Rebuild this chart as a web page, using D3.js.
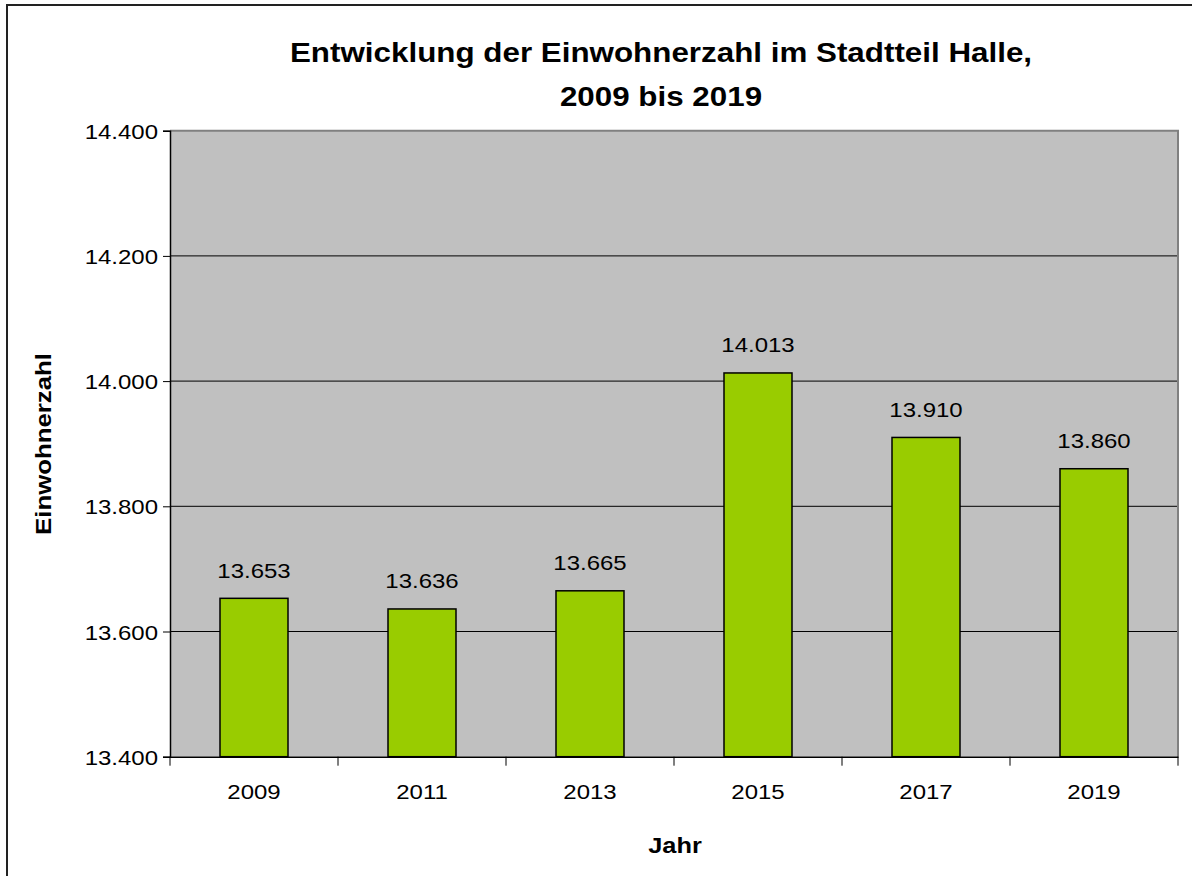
<!DOCTYPE html>
<html><head><meta charset="utf-8">
<script src="https://cdn.jsdelivr.net/npm/d3@7"></script>
<style>body{margin:0;background:#fff}svg{display:block}text{font-family:"Liberation Sans",Arial,sans-serif;fill:#000}</style>
</head><body>
<script>
const years = ["2009","2011","2013","2015","2017","2019"];
const population = [13653,13636,13665,14013,13910,13860];
const yTicks = [13400,13600,13800,14000,14200,14400];
const titleLines = ["Entwicklung der Einwohnerzahl im Stadtteil Halle,","2009 bis 2019"];
const yLabel = "Einwohnerzahl";
const xLabel = "Jahr";

const W=1192,H=876;
const L=170,R=1178,T=130.7,B=756.7;
const svg=d3.select("body").append("svg").attr("width",W).attr("height",H);
const fmt=v=>d3.format(",")(v).replace(/,/g,".");

// outer frame
svg.append("rect").attr("x",7).attr("y",5).attr("width",W).attr("height",H).attr("fill","none").attr("stroke","#222").attr("stroke-width",2);

const x=d3.scaleBand().domain(years).range([L,R]).paddingInner(100/168).paddingOuter(50/168);
const xb=d3.scaleBand().domain(years).range([L,R]);
const y=d3.scaleLinear().domain([13400,14400]).range([B,T]);

svg.append("rect").attr("x",L).attr("y",T).attr("width",R-L).attr("height",B-T).attr("fill","#C0C0C0");
// grid
svg.selectAll(".g").data(yTicks.slice(1,-1)).join("line")
 .attr("x1",L).attr("x2",R).attr("y1",d=>y(d)).attr("y2",d=>y(d)).attr("stroke","#000").attr("stroke-width",1);
// border top/right
svg.append("path").attr("d",`M${L},${T}H${R}V${B}`).attr("fill","none").attr("stroke","#808080").attr("stroke-width",2);

// bars
svg.selectAll(".bar").data(population).join("rect")
 .attr("x",(d,i)=>x(years[i])).attr("width",x.bandwidth())
 .attr("y",d=>y(d)).attr("height",d=>B-y(d))
 .attr("fill","#99CC00").attr("stroke","#000").attr("stroke-width",1.5);

// value labels
const sx=1.17, fs=20.5;
svg.selectAll(".vl").data(population).join("text")
 .attr("transform",(d,i)=>`translate(${x(years[i])+x.bandwidth()/2},${y(d)-20.5}) scale(${sx},1)`)
 .attr("text-anchor","middle").attr("font-size",fs).text(d=>fmt(d));

// y axis
const ya=svg.append("g").attr("transform",`translate(${L},0)`)
 .call(d3.axisLeft(y).tickValues(yTicks).tickSize(7).tickFormat(fmt));
ya.select(".domain").attr("stroke","#000").attr("stroke-width",1.5);
ya.selectAll(".tick line").attr("stroke","#000");
ya.selectAll(".tick text").attr("font-size",fs).attr("font-family",null).attr("dy",null).attr("x",null)
 .attr("transform",`translate(-12,7.5) scale(${sx},1)`);

// x axis
const xa=svg.append("g").attr("transform",`translate(0,${B})`)
 .call(d3.axisBottom(xb).tickSize(0).tickPadding(0));
xa.select(".domain").attr("stroke","#000").attr("stroke-width",1.5);
xa.selectAll(".tick text").attr("font-size",fs).attr("font-family",null).attr("dy",null).attr("y",null)
 .attr("transform",`translate(0,42.5) scale(${sx},1)`);
const bounds=years.map(v=>xb(v)).concat([xb(years[years.length-1])+xb.bandwidth()]);
svg.selectAll(".xt").data(bounds).join("line")
 .attr("x1",d=>d).attr("x2",d=>d).attr("y1",B).attr("y2",B+9).attr("stroke","#000");

// titles
svg.selectAll(".tt").data(titleLines).join("text")
 .attr("transform",(d,i)=>`translate(661,${62+i*44}) scale(1.12,1)`)
 .attr("text-anchor","middle").attr("font-size",28).attr("font-weight","bold").text(d=>d);

svg.append("text").attr("transform",`translate(51,444) rotate(-90) scale(1.2,1)`)
 .attr("text-anchor","middle").attr("font-size",21.5).attr("font-weight","bold").text(yLabel);
svg.append("text").attr("transform",`translate(675,853) scale(1.18,1)`)
 .attr("text-anchor","middle").attr("font-size",21.5).attr("font-weight","bold").text(xLabel);
</script>
</body></html>
